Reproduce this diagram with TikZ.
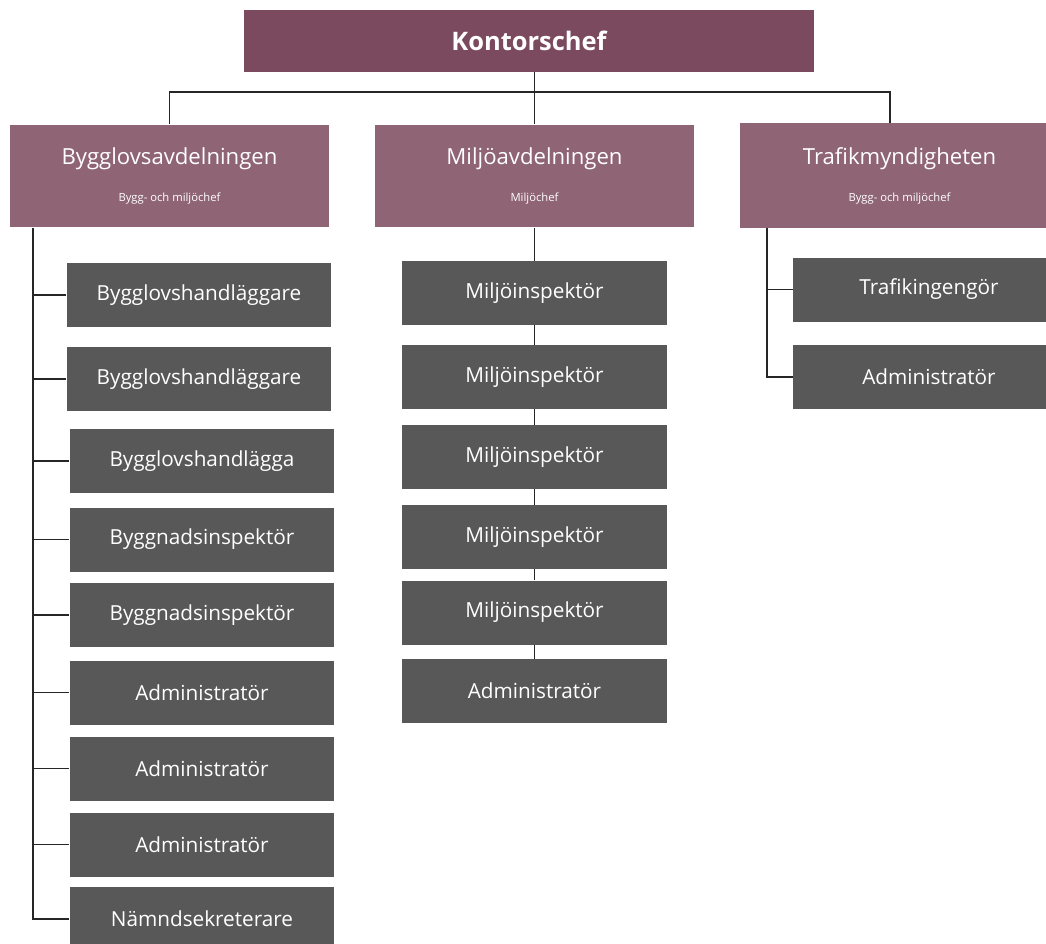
\documentclass[tikz,border=0pt]{standalone}
\usepackage{fontspec}
\setmainfont{Open Sans}
\usetikzlibrary{positioning}

\definecolor{chefc}{HTML}{7B4A5E}
\definecolor{avdc}{HTML}{8F6474}
\definecolor{tjc}{HTML}{595859}
\newcommand{\avdtitle}[1]{{\fontsize{12.6}{14}\selectfont #1}}
\newcommand{\avdsub}[1]{{\fontsize{6.4}{8}\selectfont #1}}

\begin{document}
\begin{tikzpicture}[x=0.02cm, y=-0.02cm,
  chefbox/.style={rectangle, fill=chefc, text=white, minimum width=11.4cm, minimum height=1.24cm, inner sep=0pt, font=\bfseries\fontsize{14.5}{16}\selectfont},
  avdbox/.style={rectangle, fill=avdc, text=white, minimum width=6.38cm, minimum height=2.06cm, inner sep=0pt, align=center},
  tjbox/.style={rectangle, fill=tjc, text=white, minimum width=5.3cm, minimum height=1.28cm, inner sep=0pt, font=\fontsize{11.8}{13}\selectfont},
  conn/.style={draw=black!85, line width=1pt}
]
  \useasboundingbox (0,0) rectangle (1046,944);
  \node[chefbox] (kc) at (529,41)    {Kontorschef};
  \node[avdbox]  (ba) at (169.5,176) {\avdtitle{Bygglovsavdelningen}\\[9pt]\avdsub{Bygg- och miljöchef}};
  \node[avdbox]  (ma) at (534.5,176) {\avdtitle{Miljöavdelningen}\\[9pt]\avdsub{Miljöchef}};
  \node[avdbox, minimum height=2.1cm] (tm) at (899.5,175.5) {\avdtitle{Trafikmyndigheten}\\[9pt]\avdsub{Bygg- och miljöchef}};
  % bygglov
  \node[tjbox] (b1) at (199,295) {Bygglovshandläggare};
  \node[tjbox] (b2) at (199,379) {Bygglovshandläggare};
  \node[tjbox] (b3) at (202,461) {Bygglovshandlägga};
  \node[tjbox] (b4) at (202,539.5) {Byggnadsinspektör};
  \node[tjbox] (b5) at (202,615) {Byggnadsinspektör};
  \node[tjbox] (b6) at (202,692.5) {Administratör};
  \node[tjbox] (b7) at (202,768.5) {Administratör};
  \node[tjbox] (b8) at (202,844.5) {Administratör};
  \node[tjbox] (b9) at (202,919) {Nämndsekreterare};
  % miljo
  \node[tjbox] (m1) at (534.5,293) {Miljöinspektör};
  \node[tjbox] (m2) at (534.5,377) {Miljöinspektör};
  \node[tjbox] (m3) at (534.5,457) {Miljöinspektör};
  \node[tjbox] (m4) at (534.5,537) {Miljöinspektör};
  \node[tjbox] (m5) at (534.5,612.5) {Miljöinspektör};
  \node[tjbox] (m6) at (534.5,691) {Administratör};
  % trafik
  \node[tjbox, minimum width=5.44cm] (t1) at (929,289.5) {Trafikingengör};
  \node[tjbox, minimum width=5.44cm] (t2) at (929,377) {Administratör};
  \coordinate (bx) at (33,228);
  \coordinate (tx) at (767,228);
  \coordinate (tin) at (890,123);
  \draw[conn] (ma.north) -- (ma.north |- kc.south);
  \draw[conn] (ba.north) |- (534.5,92) -| (tin);
  \draw[conn] (bx) |- (b9.west);
  \foreach \n in {b1,b2,b3,b4,b5,b6,b7,b8}
    \draw[conn] (bx |- \n.west) -- (\n.west);
  \draw[conn] (ma.south) -- (m1.north);
  \draw[conn] (m1) -- (m2) (m2) -- (m3) (m3) -- (m4) (m4) -- (m5) (m5) -- (m6);
  \draw[conn] (tx) |- (t2.west);
  \draw[conn] (tx |- t1.west) -- (t1.west);
\end{tikzpicture}
\end{document}
